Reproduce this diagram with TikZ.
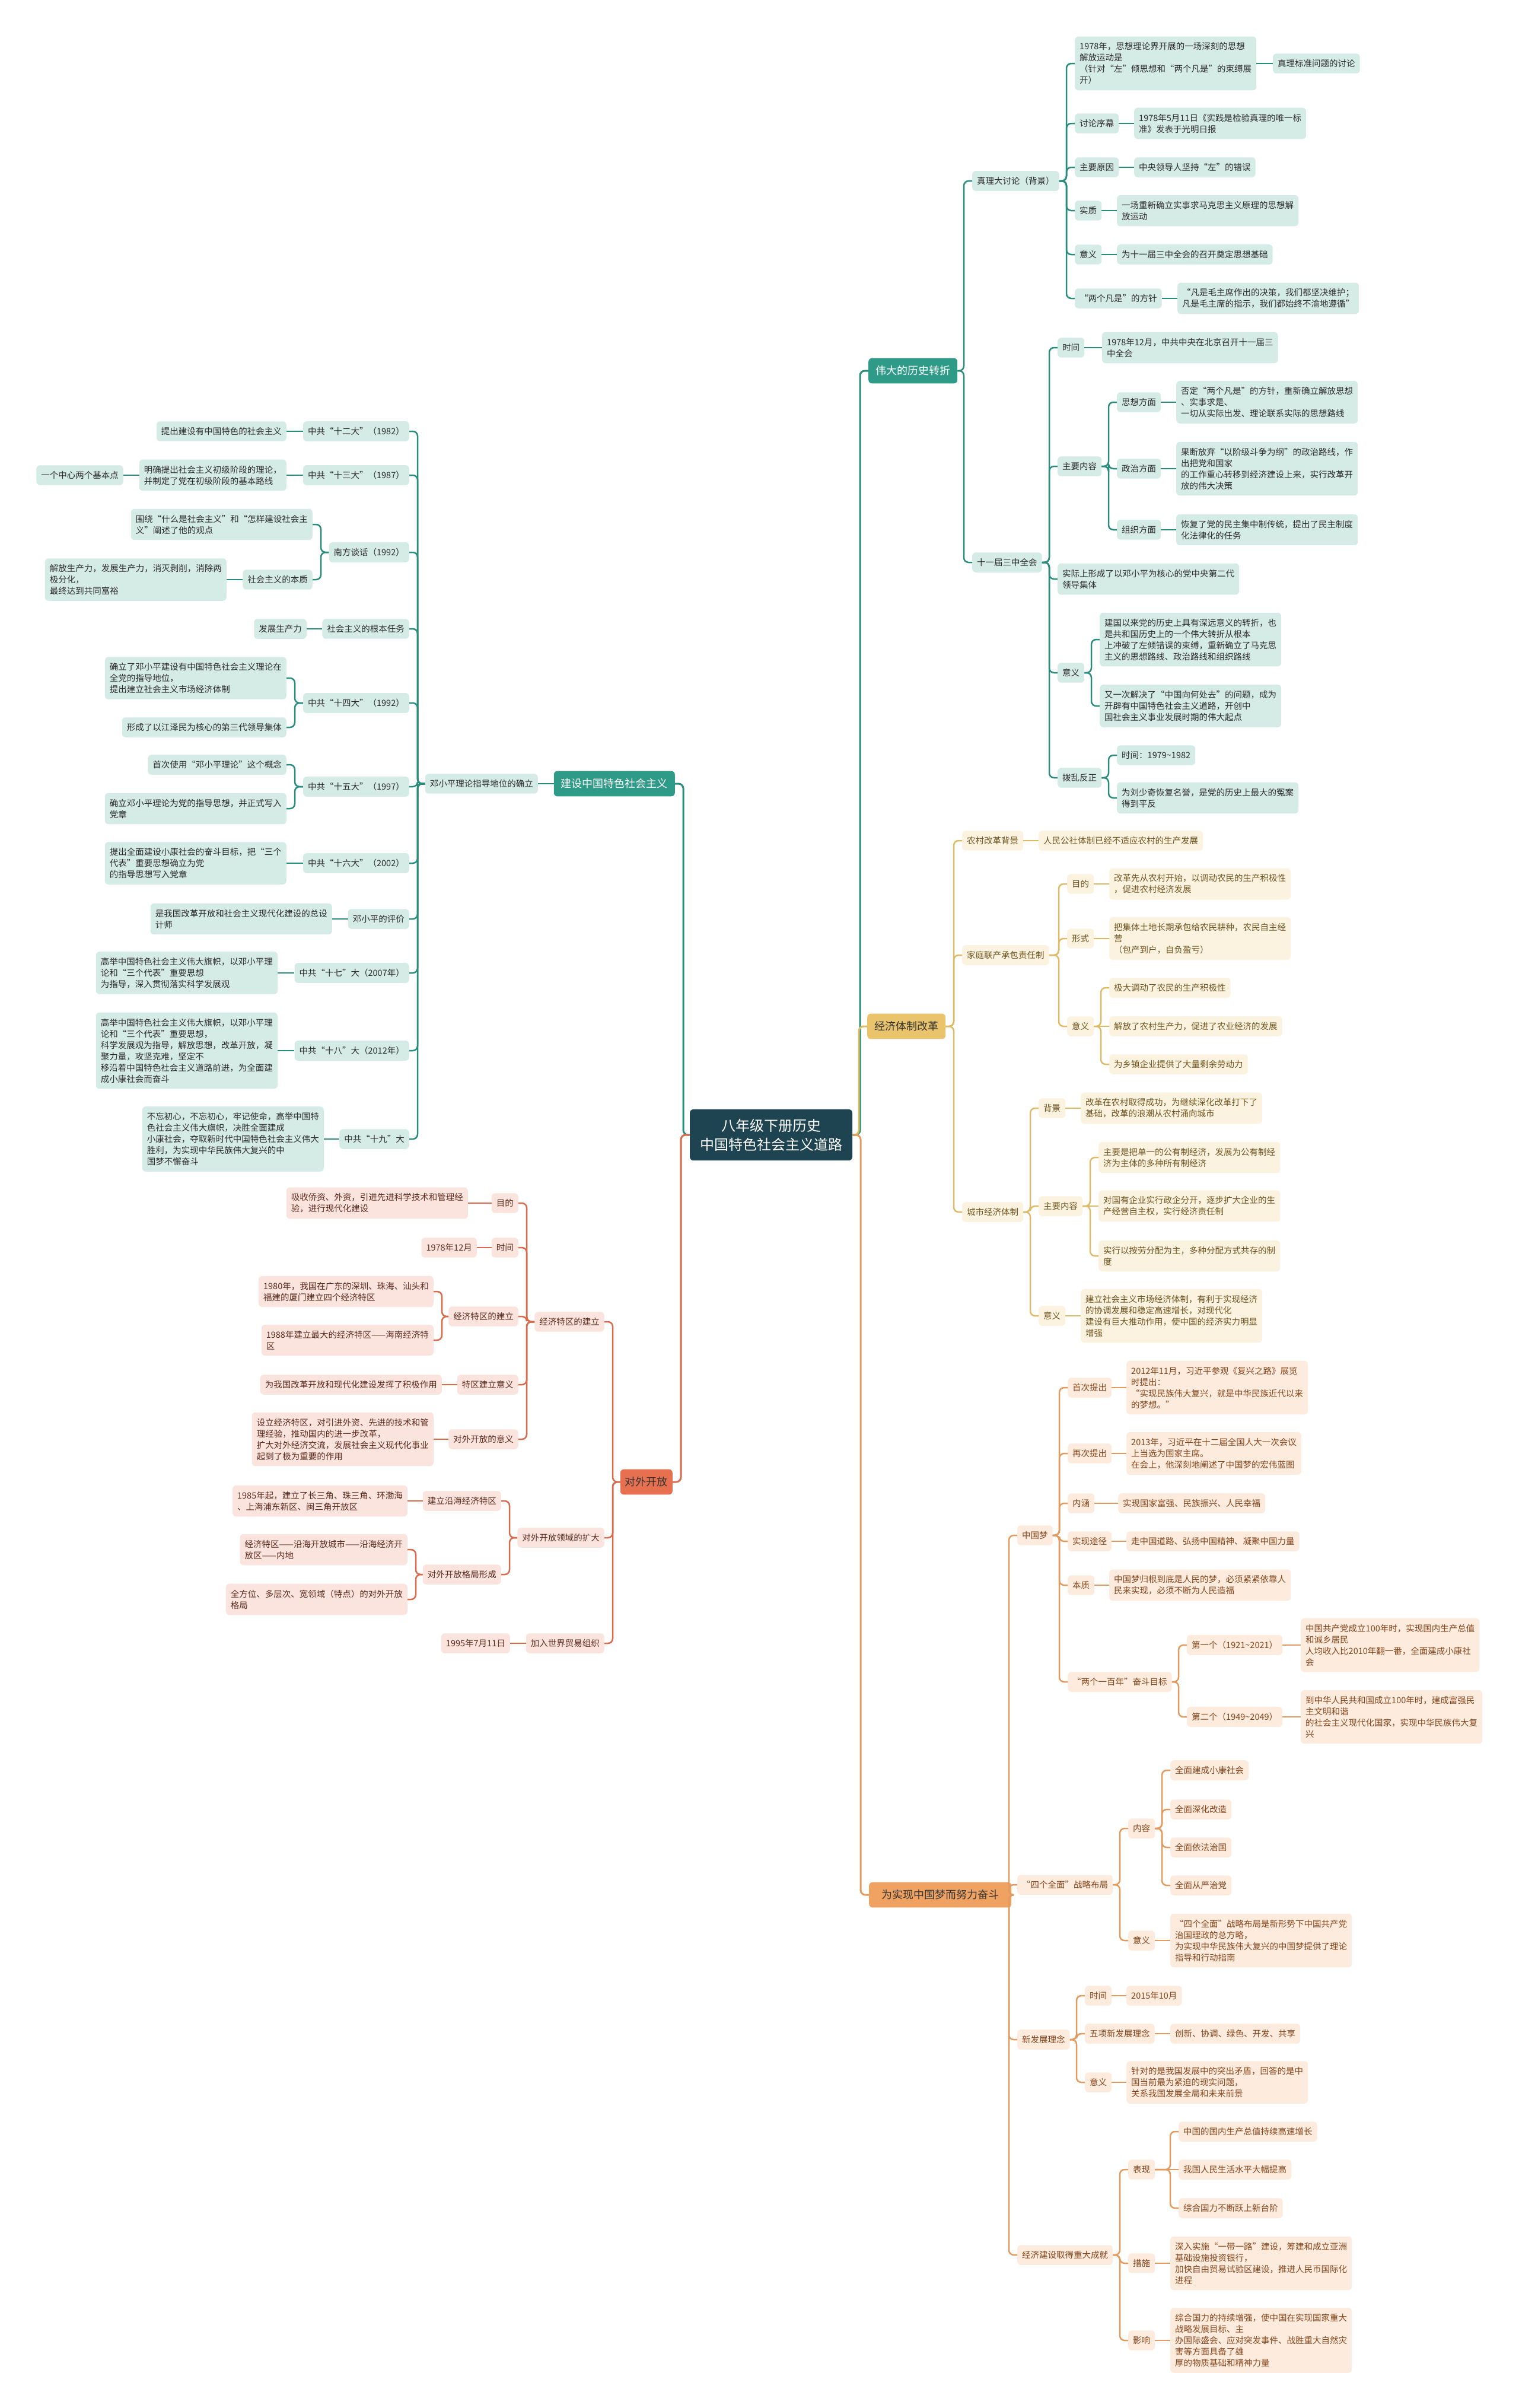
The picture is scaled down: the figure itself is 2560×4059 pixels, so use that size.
\documentclass[tikz,border=0pt]{standalone}
\usepackage{fontspec}
\setmainfont{Noto Sans CJK SC}
\definecolor{rootC}{HTML}{1F4451}
\definecolor{tealD}{HTML}{2E9A88}
\definecolor{tealLn}{HTML}{2A8C7C}
\definecolor{tealL}{HTML}{D5EBE6}
\definecolor{txtT}{HTML}{2B2B2B}
\definecolor{yelD}{HTML}{E9C46C}
\definecolor{yelLn}{HTML}{DDBA66}
\definecolor{yelL}{HTML}{FBF3DF}
\definecolor{txtY}{HTML}{6F5420}
\definecolor{orD}{HTML}{F0A263}
\definecolor{orLn}{HTML}{E39A5E}
\definecolor{orL}{HTML}{FDEBDE}
\definecolor{txtO}{HTML}{83451A}
\definecolor{redD}{HTML}{E6704F}
\definecolor{redLn}{HTML}{D96A4C}
\definecolor{redL}{HTML}{FBE4DD}
\definecolor{txtR}{HTML}{5A2A1E}
\newcommand\myER[3]{\draw[#1] (#2.east) to[eR] (#3.west);}
\newcommand\myEL[3]{\draw[#1] (#2.west) to[eL] (#3.east);}
\newcommand\mySR[3]{\draw[#1] (#2.east) -- (#3.west);}
\newcommand\mySL[3]{\draw[#1] (#2.west) -- (#3.east);}
\newcommand\tld{\textasciitilde}
\begin{document}
\begin{tikzpicture}[x=1pt,y=-1pt,
  bx/.style={rounded corners=6pt, inner xsep=8pt, inner ysep=10pt, align=left, font=\fontsize{14.5}{19}\selectfont},
  nT/.style={bx, fill=tealL, text=txtT},
  nY/.style={bx, fill=yelL, text=txtY},
  nO/.style={bx, fill=orL, text=txtO},
  nR/.style={bx, fill=redL, text=txtR},
  mone/.style={rounded corners=6pt, inner xsep=12pt, inner ysep=13pt, font=\fontsize{18}{22}\selectfont},
  eR/.style={to path={-- ([xshift=-14pt]\tikztotarget |- \tikztostart) -- ([xshift=-14pt]\tikztotarget) -- (\tikztotarget)}},
  eL/.style={to path={-- ([xshift=14pt]\tikztotarget |- \tikztostart) -- ([xshift=14pt]\tikztotarget) -- (\tikztotarget)}},
  lT/.style={draw=tealLn, line width=2.5pt, rounded corners=8pt},
  lY/.style={draw=yelLn, line width=2.5pt, rounded corners=8pt},
  lO/.style={draw=orLn, line width=2.5pt, rounded corners=8pt},
  lR/.style={draw=redLn, line width=2.5pt, rounded corners=8pt},
]
\useasboundingbox[fill=white] (0,0) rectangle (2560,4059);

% root
\node[rounded corners=6pt, fill=rootC, text=white, align=center, inner xsep=17pt, inner ysep=16pt, font=\fontsize{24}{32}\selectfont] (R) at (1300,1913) {八年级下册历史\\中国特色社会主义道路};

% main branches
\node[mone, fill=tealD, text=white, anchor=west] (A) at (1464,625) {伟大的历史转折};
\node[mone, fill=yelD, text=black!80, anchor=west] (D) at (1462,1730) {经济体制改革};
\node[mone, fill=orD, text=black!80, anchor=west, inner xsep=21pt] (E) at (1465,3194) {为实现中国梦而努力奋斗};
\node[mone, fill=tealD, text=white, anchor=east] (B) at (1138,1321) {建设中国特色社会主义};
\node[mone, fill=redD, text=black!80, anchor=east, inner xsep=8pt] (C) at (1134,2498) {对外开放};

\begin{scope}[line width=3pt]
\draw[lT,line width=3pt] (R.east) to[eR] (A.west);
\draw[lY,line width=3pt] (R.east) to[eR] (D.west);
\draw[lO,line width=3pt] (R.east) to[eR] (E.west);
\draw[lT,line width=3pt] (R.west) to[eL] (B.east);
\draw[lR,line width=3pt] (R.west) to[eL] (C.east);
\end{scope}

% ===== teal right =====
\node[nT, anchor=west] (A1) at (1639,305) {真理大讨论（背景）};
\node[nT, anchor=west] (A1a) at (1812,107) {1978年，思想理论界开展的一场深刻的思想\\解放运动是\\（针对“左”倾思想和“两个凡是”的束缚展\\开）};
\node[nT, anchor=west] (A1a1) at (2146,107) {真理标准问题的讨论};
\node[nT, anchor=west] (A1b) at (1812,208) {讨论序幕};
\node[nT, anchor=west] (A1b1) at (1912,208) {1978年5月11日《实践是检验真理的唯一标\\准》发表于光明日报};
\node[nT, anchor=west] (A1c) at (1812,282) {主要原因};
\node[nT, anchor=west] (A1c1) at (1912,282) {中央领导人坚持“左”的错误};
\node[nT, anchor=west] (A1d) at (1812,355) {实质};
\node[nT, anchor=west] (A1d1) at (1883,355) {一场重新确立实事求马克思主义原理的思想解\\放运动};
\node[nT, anchor=west] (A1e) at (1812,429) {意义};
\node[nT, anchor=west] (A1e1) at (1883,429) {为十一届三中全会的召开奠定思想基础};
\node[nT, anchor=west] (A1f) at (1812,503) {“两个凡是”的方针};
\node[nT, anchor=west, align=center] (A1f1) at (1985,503) {“凡是毛主席作出的决策，我们都坚决维护；\\凡是毛主席的指示，我们都始终不渝地遵循”};

\node[nT, anchor=west] (A2) at (1639,948) {十一届三中全会};
\node[nT, anchor=west] (A2a) at (1783,586) {时间};
\node[nT, anchor=west] (A2a1) at (1858,586) {1978年12月，中共中央在北京召开十一届三\\中全会};
\node[nT, anchor=west] (A2b) at (1783,786) {主要内容};
\node[nT, anchor=west] (A2b1) at (1883,678) {思想方面};
\node[nT, anchor=west] (A2b1x) at (1983,678) {否定“两个凡是”的方针，重新确立解放思想\\、实事求是、\\一切从实际出发、理论联系实际的思想路线};
\node[nT, anchor=west] (A2b2) at (1883,790) {政治方面};
\node[nT, anchor=west] (A2b2x) at (1983,790) {果断放弃“以阶级斗争为纲”的政治路线，作\\出把党和国家\\的工作重心转移到经济建设上来，实行改革开\\放的伟大决策};
\node[nT, anchor=west] (A2b3) at (1883,893) {组织方面};
\node[nT, anchor=west] (A2b3x) at (1983,893) {恢复了党的民主集中制传统，提出了民主制度\\化法律化的任务};
\node[nT, anchor=west] (A2c) at (1783,976) {实际上形成了以邓小平为核心的党中央第二代\\领导集体};
\node[nT, anchor=west] (A2d) at (1783,1134) {意义};
\node[nT, anchor=west] (A2d1) at (1854,1078) {建国以来党的历史上具有深远意义的转折，也\\是共和国历史上的一个伟大转折从根本\\上冲破了左倾错误的束缚，重新确立了马克思\\主义的思想路线、政治路线和组织路线};
\node[nT, anchor=west] (A2d2) at (1854,1190) {又一次解决了“中国向何处去”的问题，成为\\开辟有中国特色社会主义道路，开创中\\国社会主义事业发展时期的伟大起点};
\node[nT, anchor=west] (A2e) at (1783,1311) {拨乱反正};
\node[nT, anchor=west] (A2e1) at (1883,1273) {时间：1979\tld1982};
\node[nT, anchor=west] (A2e2) at (1883,1345) {为刘少奇恢复名誉，是党的历史上最大的冤案\\得到平反};

\myER{lT}{A}{A1}\myER{lT}{A}{A2}
\myER{lT}{A1}{A1a}\myER{lT}{A1}{A1b}\myER{lT}{A1}{A1c}\myER{lT}{A1}{A1d}\myER{lT}{A1}{A1e}\myER{lT}{A1}{A1f}
\mySR{lT}{A1a}{A1a1}\mySR{lT}{A1b}{A1b1}\mySR{lT}{A1c}{A1c1}\mySR{lT}{A1d}{A1d1}\mySR{lT}{A1e}{A1e1}\mySR{lT}{A1f}{A1f1}
\myER{lT}{A2}{A2a}\myER{lT}{A2}{A2b}\myER{lT}{A2}{A2c}\myER{lT}{A2}{A2d}\myER{lT}{A2}{A2e}
\mySR{lT}{A2a}{A2a1}
\myER{lT}{A2b}{A2b1}\myER{lT}{A2b}{A2b2}\myER{lT}{A2b}{A2b3}
\mySR{lT}{A2b1}{A2b1x}\mySR{lT}{A2b2}{A2b2x}\mySR{lT}{A2b3}{A2b3x}
\myER{lT}{A2d}{A2d1}\myER{lT}{A2d}{A2d2}
\myER{lT}{A2e}{A2e1}\myER{lT}{A2e}{A2e2}

% ===== teal left =====
\node[nT, anchor=east] (B1) at (907,1321) {邓小平理论指导地位的确立};
\node[nT, anchor=east] (B1a) at (690,727) {中共“十二大”（1982）};
\node[nT, anchor=east] (B1a1) at (483,727) {提出建设有中国特色的社会主义};
\node[nT, anchor=east] (B1b) at (690,801) {中共“十三大”（1987）};
\node[nT, anchor=east] (B1b1) at (483,801) {明确提出社会主义初级阶段的理论，\\并制定了党在初级阶段的基本路线};
\node[nT, anchor=east] (B1b1a) at (208,801) {一个中心两个基本点};
\node[nT, anchor=east] (B1c) at (690,931) {南方谈话（1992）};
\node[nT, anchor=east] (B1c1) at (527,884) {围绕“什么是社会主义”和“怎样建设社会主\\义”阐述了他的观点};
\node[nT, anchor=east] (B1c2) at (527,977) {社会主义的本质};
\node[nT, anchor=east] (B1c2a) at (382,977) {解放生产力，发展生产力，消灭剥削，消除两\\极分化，\\最终达到共同富裕};
\node[nT, anchor=east] (B1d) at (690,1060) {社会主义的根本任务};
\node[nT, anchor=east] (B1d1) at (517,1060) {发展生产力};
\node[nT, anchor=east] (B1e) at (690,1185) {中共“十四大”（1992）};
\node[nT, anchor=east] (B1e1) at (483,1143) {确立了邓小平建设有中国特色社会主义理论在\\全党的指导地位，\\提出建立社会主义市场经济体制};
\node[nT, anchor=east] (B1e2) at (483,1226) {形成了以江泽民为核心的第三代领导集体};
\node[nT, anchor=east] (B1f) at (690,1326) {中共“十五大”（1997）};
\node[nT, anchor=east] (B1f1) at (483,1289) {首次使用“邓小平理论”这个概念};
\node[nT, anchor=east] (B1f2) at (483,1363) {确立邓小平理论为党的指导思想，并正式写入\\党章};
\node[nT, anchor=east] (B1g) at (690,1455) {中共“十六大”（2002）};
\node[nT, anchor=east] (B1g1) at (483,1455) {提出全面建设小康社会的奋斗目标，把“三个\\代表”重要思想确立为党\\的指导思想写入党章};
\node[nT, anchor=east] (B1h) at (690,1549) {邓小平的评价};
\node[nT, anchor=east] (B1h1) at (560,1549) {是我国改革开放和社会主义现代化建设的总设\\计师};
\node[nT, anchor=east] (B1i) at (690,1640) {中共“十七”大（2007年）};
\node[nT, anchor=east] (B1i1) at (468,1640) {高举中国特色社会主义伟大旗帜，以邓小平理\\论和“三个代表”重要思想\\为指导，深入贯彻落实科学发展观};
\node[nT, anchor=east] (B1j) at (690,1771) {中共“十八”大（2012年）};
\node[nT, anchor=east] (B1j1) at (468,1771) {高举中国特色社会主义伟大旗帜，以邓小平理\\论和“三个代表”重要思想，\\科学发展观为指导，解放思想，改革开放，凝\\聚力量，攻坚克难，坚定不\\移沿着中国特色社会主义道路前进，为全面建\\成小康社会而奋斗};
\node[nT, anchor=east] (B1k) at (690,1920) {中共“十九”大};
\node[nT, anchor=east] (B1k1) at (546,1920) {不忘初心，不忘初心，牢记使命，高举中国特\\色社会主义伟大旗帜，决胜全面建成\\小康社会，夺取新时代中国特色社会主义伟大\\胜利，为实现中华民族伟大复兴的中\\国梦不懈奋斗};

\mySL{lT}{B}{B1}
\myEL{lT}{B1}{B1a}\myEL{lT}{B1}{B1b}\myEL{lT}{B1}{B1c}\myEL{lT}{B1}{B1d}\myEL{lT}{B1}{B1e}\myEL{lT}{B1}{B1f}\myEL{lT}{B1}{B1g}\myEL{lT}{B1}{B1h}\myEL{lT}{B1}{B1i}\myEL{lT}{B1}{B1j}\myEL{lT}{B1}{B1k}
\mySL{lT}{B1a}{B1a1}\mySL{lT}{B1b}{B1b1}\mySL{lT}{B1b1}{B1b1a}
\myEL{lT}{B1c}{B1c1}\myEL{lT}{B1c}{B1c2}\mySL{lT}{B1c2}{B1c2a}
\mySL{lT}{B1d}{B1d1}
\myEL{lT}{B1e}{B1e1}\myEL{lT}{B1e}{B1e2}
\myEL{lT}{B1f}{B1f1}\myEL{lT}{B1f}{B1f2}
\mySL{lT}{B1g}{B1g1}\mySL{lT}{B1h}{B1h1}\mySL{lT}{B1i}{B1i1}\mySL{lT}{B1j}{B1j1}\mySL{lT}{B1k}{B1k1}

% ===== red =====
\node[nR, anchor=east] (C1) at (1019,2228) {经济特区的建立};
\node[nR, anchor=east] (C1a) at (874,2028) {目的};
\node[nR, anchor=east] (C1a1) at (789,2028) {吸收侨资、外资，引进先进科学技术和管理经\\验，进行现代化建设};
\node[nR, anchor=east] (C1b) at (874,2103) {时间};
\node[nR, anchor=east] (C1b1) at (804,2103) {1978年12月};
\node[nR, anchor=east] (C1c) at (874,2219) {经济特区的建立};
\node[nR, anchor=east] (C1c1) at (731,2177) {1980年，我国在广东的深圳、珠海、汕头和\\福建的厦门建立四个经济特区};
\node[nR, anchor=east] (C1c2) at (731,2259) {1988年建立最大的经济特区——海南经济特\\区};
\node[nR, anchor=east] (C1d) at (874,2334) {特区建立意义};
\node[nR, anchor=east] (C1d1) at (745,2334) {为我国改革开放和现代化建设发挥了积极作用};
\node[nR, anchor=east] (C1e) at (874,2426) {对外开放的意义};
\node[nR, anchor=east] (C1e1) at (731,2426) {设立经济特区，对引进外资、先进的技术和管\\理经验，推动国内的进一步改革，\\扩大对外经济交流，发展社会主义现代化事业\\起到了极为重要的作用};
\node[nR, anchor=east] (C2) at (1019,2592) {对外开放领域的扩大};
\node[nR, anchor=east] (C2a) at (845,2530) {建立沿海经济特区};
\node[nR, anchor=east] (C2a1) at (687,2530) {1985年起，建立了长三角、珠三角、环渤海\\、上海浦东新区、闽三角开放区};
\node[nR, anchor=east] (C2b) at (845,2654) {对外开放格局形成};
\node[nR, anchor=east] (C2b1) at (687,2612) {经济特区——沿海开放城市——沿海经济开\\放区——内地};
\node[nR, anchor=east] (C2b2) at (687,2696) {全方位、多层次、宽领域（特点）的对外开放\\格局};
\node[nR, anchor=east] (C3) at (1019,2770) {加入世界贸易组织};
\node[nR, anchor=east] (C3a) at (860,2770) {1995年7月11日};

\myEL{lR}{C}{C1}\myEL{lR}{C}{C2}\myEL{lR}{C}{C3}
\myEL{lR}{C1}{C1a}\myEL{lR}{C1}{C1b}\myEL{lR}{C1}{C1c}\myEL{lR}{C1}{C1d}\myEL{lR}{C1}{C1e}
\mySL{lR}{C1a}{C1a1}\mySL{lR}{C1b}{C1b1}\myEL{lR}{C1c}{C1c1}\myEL{lR}{C1c}{C1c2}\mySL{lR}{C1d}{C1d1}\mySL{lR}{C1e}{C1e1}
\myEL{lR}{C2}{C2a}\myEL{lR}{C2}{C2b}\mySL{lR}{C2a}{C2a1}\myEL{lR}{C2b}{C2b1}\myEL{lR}{C2b}{C2b2}
\mySL{lR}{C3}{C3a}

% ===== yellow =====
\node[nY, anchor=west] (D1) at (1622,1417) {农村改革背景};
\node[nY, anchor=west] (D1a) at (1751,1417) {人民公社体制已经不适应农村的生产发展};
\node[nY, anchor=west] (D2) at (1622,1610) {家庭联产承包责任制};
\node[nY, anchor=west] (D2a) at (1799,1490) {目的};
\node[nY, anchor=west] (D2a1) at (1870,1490) {改革先从农村开始，以调动农民的生产积极性\\，促进农村经济发展};
\node[nY, anchor=west] (D2b) at (1799,1582) {形式};
\node[nY, anchor=west] (D2b1) at (1870,1582) {把集体土地长期承包给农民耕种，农民自主经\\营\\（包产到户，自负盈亏）};
\node[nY, anchor=west] (D2c) at (1799,1730) {意义};
\node[nY, anchor=west] (D2c1) at (1870,1665) {极大调动了农民的生产积极性};
\node[nY, anchor=west] (D2c2) at (1870,1730) {解放了农村生产力，促进了农业经济的发展};
\node[nY, anchor=west] (D2c3) at (1870,1794) {为乡镇企业提供了大量剩余劳动力};
\node[nY, anchor=west] (D3) at (1622,2043) {城市经济体制};
\node[nY, anchor=west] (D3a) at (1751,1868) {背景};
\node[nY, anchor=west] (D3a1) at (1822,1868) {改革在农村取得成功，为继续深化改革打下了\\基础，改革的浪潮从农村涌向城市};
\node[nY, anchor=west] (D3b) at (1751,2033) {主要内容};
\node[nY, anchor=west] (D3b1) at (1852,1951) {主要是把单一的公有制经济，发展为公有制经\\济为主体的多种所有制经济};
\node[nY, anchor=west] (D3b2) at (1852,2033) {对国有企业实行政企分开，逐步扩大企业的生\\产经营自主权，实行经济责任制};
\node[nY, anchor=west] (D3b3) at (1852,2117) {实行以按劳分配为主，多种分配方式共存的制\\度};
\node[nY, anchor=west] (D3c) at (1751,2218) {意义};
\node[nY, anchor=west] (D3c1) at (1822,2218) {建立社会主义市场经济体制，有利于实现经济\\的协调发展和稳定高速增长，对现代化\\建设有巨大推动作用，使中国的经济实力明显\\增强};

\myER{lY}{D}{D1}\myER{lY}{D}{D2}\myER{lY}{D}{D3}
\mySR{lY}{D1}{D1a}
\myER{lY}{D2}{D2a}\myER{lY}{D2}{D2b}\myER{lY}{D2}{D2c}
\mySR{lY}{D2a}{D2a1}\mySR{lY}{D2b}{D2b1}
\myER{lY}{D2c}{D2c1}\mySR{lY}{D2c}{D2c2}\myER{lY}{D2c}{D2c3}
\myER{lY}{D3}{D3a}\myER{lY}{D3}{D3b}\myER{lY}{D3}{D3c}
\mySR{lY}{D3a}{D3a1}
\myER{lY}{D3b}{D3b1}\mySR{lY}{D3b}{D3b2}\myER{lY}{D3b}{D3b3}
\mySR{lY}{D3c}{D3c1}

% ===== orange =====
\node[nO, anchor=west] (E1) at (1715,2588) {中国梦};
\node[nO, anchor=west] (E1a) at (1800,2339) {首次提出};
\node[nO, anchor=west] (E1a1) at (1899,2339) {2012年11月，习近平参观《复兴之路》展览\\时提出：\\“实现民族伟大复兴，就是中华民族近代以来\\的梦想。”};
\node[nO, anchor=west] (E1b) at (1800,2450) {再次提出};
\node[nO, anchor=west] (E1b1) at (1899,2450) {2013年，习近平在十二届全国人大一次会议\\上当选为国家主席。\\在会上，他深刻地阐述了中国梦的宏伟蓝图};
\node[nO, anchor=west] (E1c) at (1800,2534) {内涵};
\node[nO, anchor=west] (E1c1) at (1885,2534) {实现国家富强、民族振兴、人民幸福};
\node[nO, anchor=west] (E1d) at (1800,2598) {实现途径};
\node[nO, anchor=west] (E1d1) at (1899,2598) {走中国道路、弘扬中国精神、凝聚中国力量};
\node[nO, anchor=west] (E1e) at (1800,2672) {本质};
\node[nO, anchor=west] (E1e1) at (1870,2672) {中国梦归根到底是人民的梦，必须紧紧依靠人\\民来实现，必须不断为人民造福};
\node[nO, anchor=west] (E1f) at (1800,2835) {“两个一百年”奋斗目标};
\node[nO, anchor=west] (E1f1) at (2001,2773) {第一个（1921\tld2021）};
\node[nO, anchor=west] (E1f1a) at (2193,2773) {中国共产党成立100年时，实现国内生产总值\\和诚乡居民\\人均收入比2010年翻一番，全面建成小康社\\会};
\node[nO, anchor=west] (E1f2) at (2001,2894) {第二个（1949\tld2049）};
\node[nO, anchor=west] (E1f2a) at (2193,2894) {到中华人民共和国成立100年时，建成富强民\\主文明和谐\\的社会主义现代化国家，实现中华民族伟大复\\兴};

\node[nO, anchor=west] (E2) at (1715,3177) {“四个全面”战略布局};
\node[nO, anchor=west] (E2a) at (1902,3082) {内容};
\node[nO, anchor=west] (E2a1) at (1973,2984) {全面建成小康社会};
\node[nO, anchor=west] (E2a2) at (1973,3050) {全面深化改造};
\node[nO, anchor=west] (E2a3) at (1973,3114) {全面依法治国};
\node[nO, anchor=west] (E2a4) at (1973,3178) {全面从严治党};
\node[nO, anchor=west] (E2b) at (1902,3271) {意义};
\node[nO, anchor=west] (E2b1) at (1973,3271) {“四个全面”战略布局是新形势下中国共产党\\治国理政的总方略，\\为实现中华民族伟大复兴的中国梦提供了理论\\指导和行动指南};

\node[nO, anchor=west] (E3) at (1715,3438) {新发展理念};
\node[nO, anchor=west] (E3a) at (1829,3364) {时间};
\node[nO, anchor=west] (E3a1) at (1899,3364) {2015年10月};
\node[nO, anchor=west] (E3b) at (1829,3428) {五项新发展理念};
\node[nO, anchor=west] (E3b1) at (1973,3428) {创新、协调、绿色、开发、共享};
\node[nO, anchor=west] (E3c) at (1829,3510) {意义};
\node[nO, anchor=west] (E3c1) at (1899,3510) {针对的是我国发展中的突出矛盾，回答的是中\\国当前最为紧迫的现实问题，\\关系我国发展全局和未来前景};

\node[nO, anchor=west] (E4) at (1715,3801) {经济建设取得重大成就};
\node[nO, anchor=west] (E4a) at (1902,3657) {表现};
\node[nO, anchor=west] (E4a1) at (1987,3593) {中国的国内生产总值持续高速增长};
\node[nO, anchor=west] (E4a2) at (1987,3657) {我国人民生活水平大幅提高};
\node[nO, anchor=west] (E4a3) at (1987,3722) {综合国力不断跃上新台阶};
\node[nO, anchor=west] (E4b) at (1902,3815) {措施};
\node[nO, anchor=west] (E4b1) at (1973,3815) {深入实施“一带一路”建设，筹建和成立亚洲\\基础设施投资银行，\\加快自由贸易试验区建设，推进人民币国际化\\进程};
\node[nO, anchor=west] (E4c) at (1902,3945) {影响};
\node[nO, anchor=west] (E4c1) at (1973,3945) {综合国力的持续增强，使中国在实现国家重大\\战略发展目标、主\\办国际盛会、应对突发事件、战胜重大自然灾\\害等方面具备了雄\\厚的物质基础和精神力量};

\myER{lO}{E}{E1}\myER{lO}{E}{E2}\myER{lO}{E}{E3}\myER{lO}{E}{E4}
\myER{lO}{E1}{E1a}\myER{lO}{E1}{E1b}\myER{lO}{E1}{E1c}\myER{lO}{E1}{E1d}\myER{lO}{E1}{E1e}\myER{lO}{E1}{E1f}
\mySR{lO}{E1a}{E1a1}\mySR{lO}{E1b}{E1b1}\mySR{lO}{E1c}{E1c1}\mySR{lO}{E1d}{E1d1}\mySR{lO}{E1e}{E1e1}
\myER{lO}{E1f}{E1f1}\myER{lO}{E1f}{E1f2}\mySR{lO}{E1f1}{E1f1a}\mySR{lO}{E1f2}{E1f2a}
\myER{lO}{E2}{E2a}\myER{lO}{E2}{E2b}
\myER{lO}{E2a}{E2a1}\myER{lO}{E2a}{E2a2}\myER{lO}{E2a}{E2a3}\myER{lO}{E2a}{E2a4}
\mySR{lO}{E2b}{E2b1}
\myER{lO}{E3}{E3a}\myER{lO}{E3}{E3b}\myER{lO}{E3}{E3c}
\mySR{lO}{E3a}{E3a1}\mySR{lO}{E3b}{E3b1}\mySR{lO}{E3c}{E3c1}
\myER{lO}{E4}{E4a}\myER{lO}{E4}{E4b}\myER{lO}{E4}{E4c}
\myER{lO}{E4a}{E4a1}\mySR{lO}{E4a}{E4a2}\myER{lO}{E4a}{E4a3}
\mySR{lO}{E4b}{E4b1}\mySR{lO}{E4c}{E4c1}
\end{tikzpicture}
\end{document}
